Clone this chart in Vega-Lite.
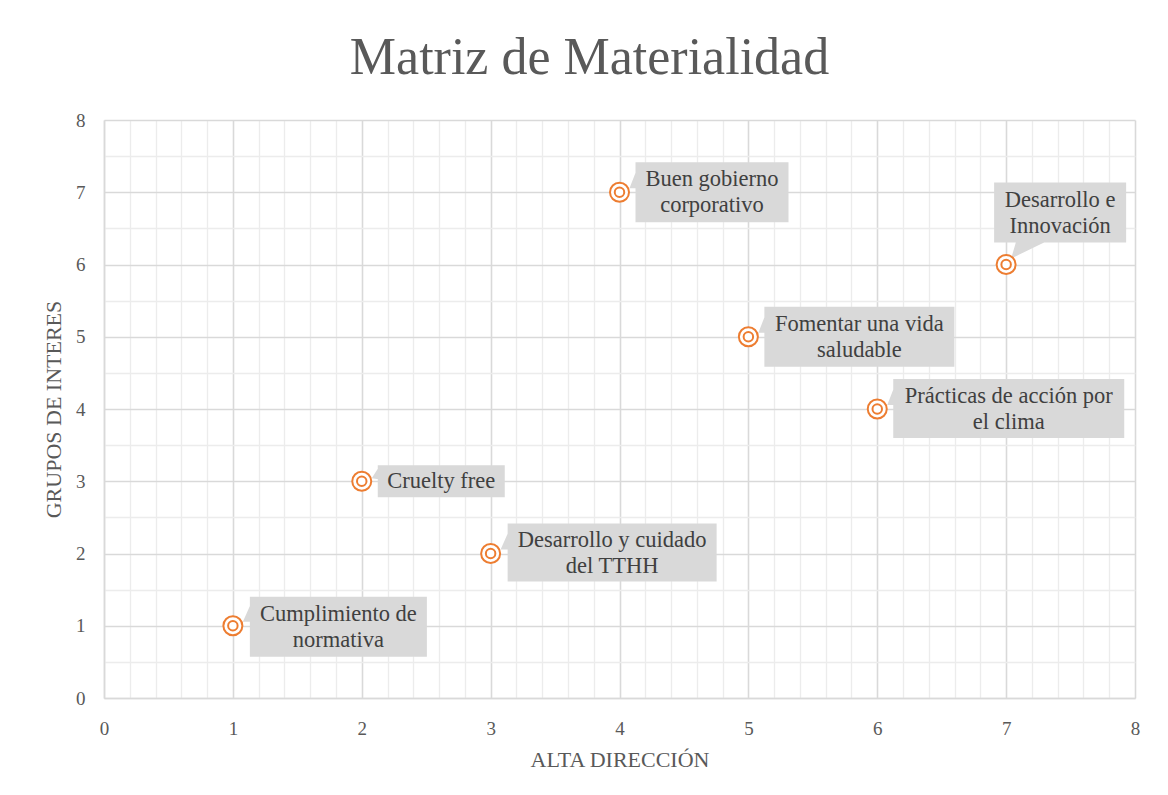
{
  "$schema": "https://vega.github.io/schema/vega-lite/v6.json",
  "autosize": "none",
  "width": 1031,
  "height": 578,
  "padding": {"left": 104, "top": 120, "right": 33, "bottom": 97},
  "background": "white",
  "title": {
    "text": "Matriz de Materialidad",
    "font": "Liberation Serif",
    "fontSize": 52,
    "fontWeight": "normal",
    "color": "#595959",
    "anchor": "middle",
    "frame": "group",
    "baseline": "alphabetic",
    "offset": 42,
    "dx": -30,
    "dy": 57
  },
  "config": {
    "view": {"stroke": null},
    "axis": {
      "labelFont": "Liberation Serif",
      "labelFontSize": 19,
      "labelColor": "#595959",
      "labelFlush": false,
      "titleFont": "Liberation Serif",
      "titleFontSize": 22,
      "titleFontWeight": "normal",
      "titleColor": "#595959",
      "ticks": false,
      "tickSize": 0,
      "domainColor": "#d9d9d9",
      "domainWidth": 1.5,
      "gridColor": {"condition": {"test": "abs(datum.value - round(datum.value)) < 0.001", "value": "#d9d9d9"}, "value": "#ececec"},
      "gridWidth": {"condition": {"test": "abs(datum.value - round(datum.value)) < 0.001", "value": 1.6}, "value": 1.3},
      "gridOpacity": 1,
      "labelExpr": "abs(datum.value - round(datum.value)) < 0.001 ? format(datum.value, 'd') : ''",
      "values": [0,0.2,0.4,0.6,0.8,1,1.2,1.4,1.6,1.8,2,2.2,2.4,2.6,2.8,3,3.2,3.4,3.6,3.8,4,4.2,4.4,4.6,4.8,5,5.2,5.4,5.6,5.8,6,6.2,6.4,6.6,6.8,7,7.2,7.4,7.6,7.8,8]
    }
  },
  "data": {
    "values": [
      {"x": 1, "y": 1, "tema": "Cumplimiento  de\nnormativa"},
      {"x": 2, "y": 3, "tema": "Cruelty  free"},
      {"x": 3, "y": 2, "tema": "Desarrollo  y cuidado\ndel TTHH"},
      {"x": 4, "y": 7, "tema": "Buen gobierno\ncorporativo"},
      {"x": 5, "y": 5, "tema": "Fomentar una vida\nsaludable"},
      {"x": 6, "y": 4, "tema": "Prácticas de acción por\nel clima"},
      {"x": 7, "y": 6, "tema": "Desarrollo  e\nInnovación"}
    ]
  },
  "encoding": {
    "x": {"field": "x", "type": "quantitative", "scale": {"domain": [0, 8], "nice": false}, "axis": {"title": "ALTA DIRECCIÓN", "labelPadding": 21, "titlePadding": 11}},
    "y": {"field": "y", "type": "quantitative", "scale": {"domain": [0, 8], "nice": false}, "axis": {"title": "GRUPOS DE INTERES", "labelPadding": 19, "titlePadding": 10}}
  },
  "layer": [
    {
      "mark": {"type": "point", "filled": true, "size": 4, "color": "#d9d9d9", "opacity": 1, "strokeWidth": 0},
      "encoding": {
        "shape": {
          "field": "x", "type": "nominal", "legend": null,
          "scale": {
            "domain": [1, 2, 3, 4, 5, 6, 7],
            "range": [
              "M 17 -29 L 194 -29 L 194 31 L 17 31 Z M 10 -4 L 18 -22 L 18 -4 Z",
              "M 16 -16 L 143 -16 L 143 16 L 16 16 Z M 10 -3 L 17 -14 L 17 -2 Z",
              "M 17 -30 L 226 -30 L 226 28 L 17 28 Z M 10 -4 L 18 -22 L 18 -4 Z",
              "M 16 -30 L 169 -30 L 169 30 L 16 30 Z M 10 -4 L 17 -22 L 17 -4 Z",
              "M 16 -30 L 206 -30 L 206 30 L 16 30 Z M 10 -4 L 17 -22 L 17 -4 Z",
              "M 16 -30 L 247 -30 L 247 29 L 16 29 Z M 10 -4 L 17 -22 L 17 -4 Z",
              "M -12 -82 L 120 -82 L 120 -22 L -12 -22 Z M 5 -6 L 10 -23 L 40 -23 Z"
            ]
          }
        }
      }
    },
    {"transform": [{"filter": "datum.x === 1"}], "mark": {"type": "text", "dx": 105.5, "dy": -12, "align": "center", "baseline": "middle", "lineBreak": "\n", "lineHeight": 26, "font": "Liberation Serif", "fontSize": 22.5, "color": "#404040"}, "encoding": {"text": {"field": "tema"}}},
    {"transform": [{"filter": "datum.x === 2"}], "mark": {"type": "text", "dx": 79.5, "dy": 0, "align": "center", "baseline": "middle", "lineBreak": "\n", "lineHeight": 26, "font": "Liberation Serif", "fontSize": 22.5, "color": "#404040"}, "encoding": {"text": {"field": "tema"}}},
    {"transform": [{"filter": "datum.x === 3"}], "mark": {"type": "text", "dx": 121.5, "dy": -14, "align": "center", "baseline": "middle", "lineBreak": "\n", "lineHeight": 26, "font": "Liberation Serif", "fontSize": 22.5, "color": "#404040"}, "encoding": {"text": {"field": "tema"}}},
    {"transform": [{"filter": "datum.x === 4"}], "mark": {"type": "text", "dx": 92.5, "dy": -13, "align": "center", "baseline": "middle", "lineBreak": "\n", "lineHeight": 26, "font": "Liberation Serif", "fontSize": 22.5, "color": "#404040"}, "encoding": {"text": {"field": "tema"}}},
    {"transform": [{"filter": "datum.x === 5"}], "mark": {"type": "text", "dx": 111, "dy": -13, "align": "center", "baseline": "middle", "lineBreak": "\n", "lineHeight": 26, "font": "Liberation Serif", "fontSize": 22.5, "color": "#404040"}, "encoding": {"text": {"field": "tema"}}},
    {"transform": [{"filter": "datum.x === 6"}], "mark": {"type": "text", "dx": 131.5, "dy": -13, "align": "center", "baseline": "middle", "lineBreak": "\n", "lineHeight": 26, "font": "Liberation Serif", "fontSize": 22.5, "color": "#404040"}, "encoding": {"text": {"field": "tema"}}},
    {"transform": [{"filter": "datum.x === 7"}], "mark": {"type": "text", "dx": 54, "dy": -65, "align": "center", "baseline": "middle", "lineBreak": "\n", "lineHeight": 26, "font": "Liberation Serif", "fontSize": 22.5, "color": "#404040"}, "encoding": {"text": {"field": "tema"}}},
    {
      "mark": {"type": "point", "shape": "circle", "size": 361, "filled": false, "fill": "white", "fillOpacity": 1, "stroke": "#ED7D31", "strokeWidth": 2, "opacity": 1}
    },
    {
      "mark": {"type": "point", "shape": "circle", "size": 90, "filled": false, "stroke": "#ED7D31", "strokeWidth": 2, "opacity": 1}
    }
  ]
}
